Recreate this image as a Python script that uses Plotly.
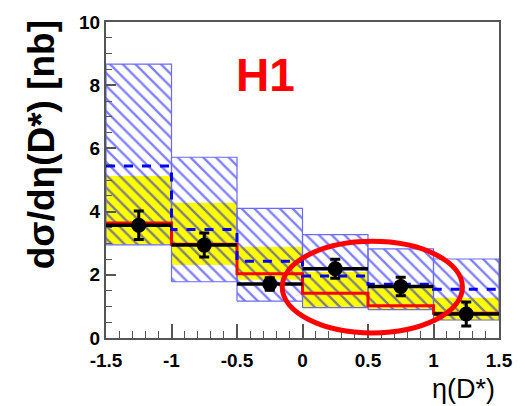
import plotly.graph_objects as go

# Bin edges of eta(D*)
bin_edges = [-1.5, -1.0, -0.5, 0.0, 0.5, 1.0, 1.5]
bin_centers = [-1.25, -0.75, -0.25, 0.25, 0.75, 1.25]
bin_halfwidth = [0.25, 0.25, 0.25, 0.25, 0.25, 0.25]

# H1 data points
data_y = [3.57, 2.94, 1.71, 2.19, 1.63, 0.76]
data_err = [0.45, 0.38, 0.20, 0.30, 0.29, 0.38]

# Outer (blue hatched) theory band
blue_hi = [8.67, 5.72, 4.10, 3.27, 2.82, 2.50]
blue_lo = [2.95, 1.78, 1.17, 0.96, 0.90, 0.57]
# Blue dashed central prediction
blue_central = [5.44, 3.43, 2.43, 1.96, 1.70, 1.54]

# Inner (yellow) band
yellow_hi = [5.13, 4.28, 2.89, 2.09, 1.57, 1.27]
yellow_lo = [2.95, 2.31, 1.84, 0.98, 0.90, 0.55]

# Red prediction
red_pred = [3.64, 2.97, 2.03, 1.42, 1.02, 0.78]

x_ticks = [-1.5, -1.0, -0.5, 0.0, 0.5, 1.0, 1.5]
x_ticktext = ["-1.5", "-1", "-0.5", "0", "0.5", "1", "1.5"]
y_ticks = [0, 2, 4, 6, 8, 10]
y_ticktext = ["0", "2", "4", "6", "8", "10"]

fig = go.Figure()

# yellow band
for i in range(len(yellow_hi)):
    x0, x1 = bin_edges[i], bin_edges[i + 1]
    fig.add_trace(go.Scatter(
        x=[x0, x1, x1, x0, x0], y=[yellow_lo[i], yellow_lo[i], yellow_hi[i], yellow_hi[i], yellow_lo[i]],
        mode="lines", fill="toself", fillcolor="#ffff00", line=dict(width=0, color="#ffff00"),
        hoverinfo="skip", showlegend=False))

# blue hatched band
for i in range(len(blue_hi)):
    x0, x1 = bin_edges[i], bin_edges[i + 1]
    fig.add_trace(go.Scatter(
        x=[x0, x1, x1, x0, x0], y=[blue_lo[i], blue_lo[i], blue_hi[i], blue_hi[i], blue_lo[i]],
        mode="lines", fill="toself", fillcolor="rgba(0,0,0,0)",
        fillpattern=dict(shape="\\", fgcolor="#0000ff", bgcolor="rgba(0,0,0,0)", size=9, solidity=0.26),
        line=dict(width=1.2, color="#6a6aff"),
        hoverinfo="skip", showlegend=False))

# red step
fig.add_trace(go.Scatter(
    x=bin_edges, y=red_pred + [red_pred[-1]], mode="lines", line=dict(shape="hv", color="#ff0000", width=3),
    hoverinfo="skip", showlegend=False))

# blue dashed step
fig.add_trace(go.Scatter(
    x=bin_edges, y=blue_central + [blue_central[-1]], mode="lines",
    line=dict(shape="hv", color="#0000ff", width=3, dash="dash"),
    hoverinfo="skip", showlegend=False))

# data points
fig.add_trace(go.Scatter(
    x=bin_centers, y=data_y, mode="markers",
    marker=dict(color="black", size=15, symbol="circle"),
    error_x=dict(type="data", array=bin_halfwidth, width=0, thickness=3.5, color="black"),
    error_y=dict(type="data", array=data_err, width=5, thickness=3, color="black"),
    showlegend=False))

# red ellipse
fig.add_shape(type="circle", xref="x", yref="y", x0=-0.155, x1=1.221, y0=0.16, y1=3.06,
              line=dict(color="#ff0000", width=5), layer="above")

axis_line = "#555555"
fig.update_xaxes(range=[-1.5, 1.5], tickvals=x_ticks, ticktext=x_ticktext,
                 ticks="inside", ticklen=14, tickwidth=1.5, tickcolor=axis_line,
                 minor=dict(ticks="inside", ticklen=7, dtick=0.1, tick0=-1.5, tickcolor=axis_line, tickwidth=1.2),
                 showline=True, linecolor=axis_line, linewidth=2, mirror=True,
                 showgrid=False, zeroline=False, ticklabelstandoff=4,
                 tickfont=dict(family="Liberation Sans", size=19, color="black", weight="bold"))
fig.update_yaxes(range=[0, 10], tickvals=y_ticks, ticktext=y_ticktext,
                 ticks="inside", ticklen=10, tickwidth=1.5, tickcolor=axis_line,
                 minor=dict(ticks="inside", ticklen=6, dtick=0.5, tick0=0, tickcolor=axis_line, tickwidth=1.2),
                 showline=True, linecolor=axis_line, linewidth=2, mirror=True,
                 showgrid=False, zeroline=False,
                 tickfont=dict(family="Liberation Sans", size=19, color="black", weight="bold"))

fig.add_annotation(text="dσ/dη(D*) [nb]", textangle=-90, xref="paper", yref="paper",
                   x=(40 - 106) / 403, y=(338 - 8) / 326, xanchor="center", yanchor="top",
                   showarrow=False, font=dict(family="Liberation Sans", size=37, color="black", weight="bold"))
fig.add_annotation(text="η(D*)", xref="paper", yref="paper",
                   x=(507 - 106) / 403, y=(338 - 391) / 326, xanchor="right", yanchor="middle",
                   showarrow=False, font=dict(family="Liberation Sans", size=27, color="black"))
fig.add_annotation(text="H1", xref="paper", yref="paper",
                   x=(270 - 106) / 403, y=(338 - 67) / 326, xanchor="center", yanchor="middle",
                   showarrow=False, font=dict(family="Liberation Sans", size=46, color="#ff0000", weight="bold"))

fig.update_layout(width=525, height=406, margin=dict(l=106, r=16, t=12, b=68),
                  paper_bgcolor="white", plot_bgcolor="white")

fig.write_html("out.html")
